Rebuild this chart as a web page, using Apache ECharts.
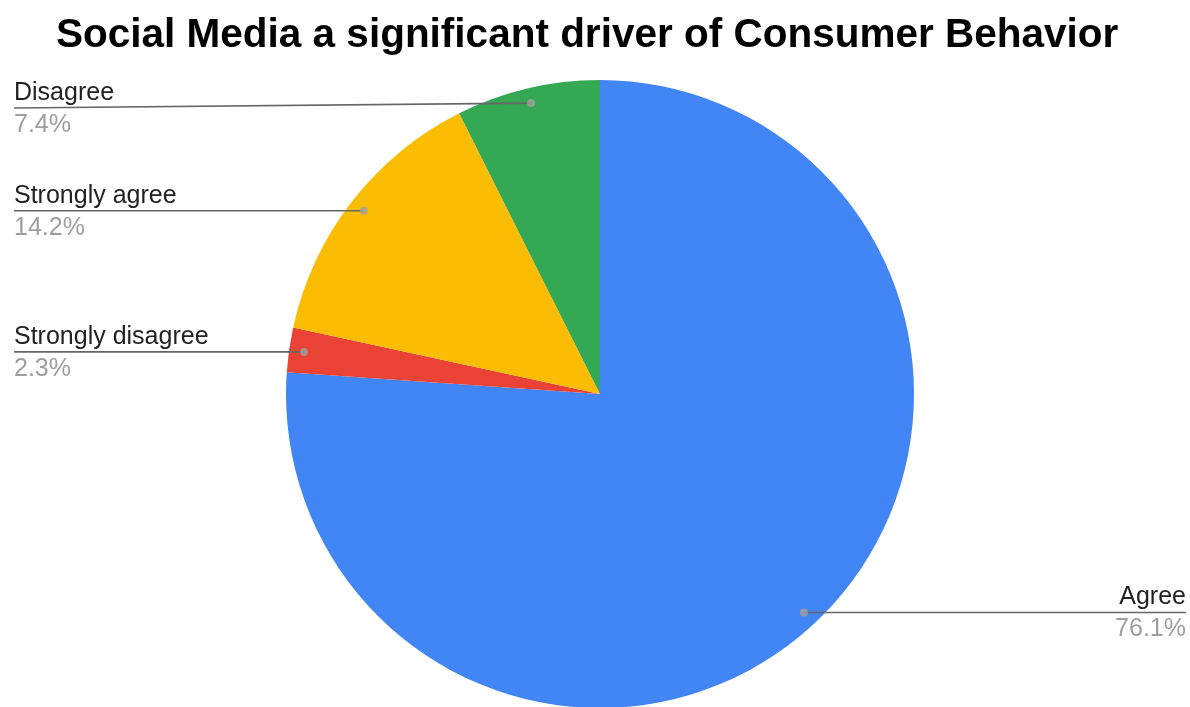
<!DOCTYPE html>
<html>
<head>
<meta charset="utf-8">
<title>Social Media a significant driver of Consumer Behavior</title>
<script src="https://cdn.jsdelivr.net/npm/echarts@6/dist/echarts.min.js"></script>
<style>
  html, body { margin: 0; padding: 0; background: #ffffff; }
  #chart { width: 1190px; height: 707px; }
</style>
</head>
<body>
<div id="chart"></div>
<script>
// Survey answers, in slice order (clockwise from 12 o'clock)
const categories = ['Agree', 'Strongly disagree', 'Strongly agree', 'Disagree'];
const shares = [76.1, 2.3, 14.2, 7.4];
const sliceColors = ['#4285F4', '#EA4335', '#FBBC04', '#34A853'];

const CENTER = [600, 394];
const RADIUS = 314;
const DOT_RATIO = 0.952;   // where the leader line starts, as a share of the radius
const EDGE_LEFT = 14;      // label inset from the left side
const EDGE_RIGHT = 4;      // label inset from the right side
const LABEL_TOP = 108;     // keep labels clear of the title

// mid-angle of each slice, in percent of the full turn
const total = shares.reduce((a, b) => a + b, 0);
let acc = 0;
const midPoints = shares.map(v => {
  const mid = (acc + v / 2) / total * 100;
  acc += v;
  return [DOT_RATIO, mid];
});

const pieData = categories.map((name, i) => ({
  name,
  value: shares[i],
  itemStyle: { color: sliceColors[i] }
}));

const labelFont = 'Liberation Sans, Arial, sans-serif';

const chart = echarts.init(document.getElementById('chart'), null, { renderer: 'canvas' });

chart.setOption({
  backgroundColor: '#ffffff',
  animation: false,
  title: {
    text: 'Social Media a significant driver of Consumer Behavior',
    left: 51,
    top: 10,
    textStyle: {
      fontFamily: labelFont,
      fontWeight: 'bold',
      fontSize: 40.5,
      color: '#000000'
    }
  },
  polar: { center: CENTER, radius: RADIUS },
  angleAxis: { type: 'value', min: 0, max: 100, startAngle: 90, clockwise: true, show: false },
  radiusAxis: { type: 'value', min: 0, max: 1, show: false },
  series: [
    {
      // the slices
      type: 'pie',
      center: CENTER,
      radius: RADIUS,
      startAngle: 90,
      clockwise: true,
      silent: true,
      z: 2,
      data: pieData,
      itemStyle: { borderWidth: 0 },
      label: { show: false },
      labelLine: { show: false }
    },
    {
      // same layout, invisible sectors: carries the labels and leader lines above the slices
      type: 'pie',
      center: CENTER,
      radius: RADIUS,
      startAngle: 90,
      clockwise: true,
      silent: true,
      z: 3,
      data: pieData.map(d => ({ name: d.name, value: d.value })),
      itemStyle: { color: 'rgba(0,0,0,0)', borderWidth: 0 },
      label: {
        show: true,
        position: 'outer',
        alignTo: 'edge',
        edgeDistance: EDGE_LEFT,
        formatter: p => '{n|' + p.name + '}\n{p|' + p.value.toFixed(1) + '%}',
        rich: {
          n: { fontFamily: labelFont, fontSize: 25, color: '#222222', lineHeight: 32 },
          p: { fontFamily: labelFont, fontSize: 25, color: '#9E9E9E', lineHeight: 32 }
        }
      },
      labelLine: {
        show: true,
        length: 0,
        length2: 10,
        lineStyle: { color: '#666666', width: 1.6 }
      },
      labelLayout: function (params) {
        const pts = params.labelLinePoints;
        if (!pts) return {};
        const start = pts[0];
        const dot = [
          CENTER[0] + (start[0] - CENTER[0]) * DOT_RATIO,
          CENTER[1] + (start[1] - CENTER[1]) * DOT_RATIO
        ];
        const rightSide = dot[0] > CENTER[0];
        const edgeX = rightSide ? chart.getWidth() - EDGE_RIGHT : EDGE_LEFT;
        const labelY = Math.max(dot[1], LABEL_TOP);
        return {
          x: edgeX,
          y: labelY + 1,
          align: rightSide ? 'right' : 'left',
          verticalAlign: 'middle',
          labelLinePoints: [dot, [edgeX, labelY], [edgeX, labelY]]
        };
      }
    },
    {
      // leader-line dots on each slice
      type: 'scatter',
      coordinateSystem: 'polar',
      silent: true,
      symbol: 'circle',
      symbolSize: 8,
      itemStyle: { color: '#A0A0A0' },
      data: midPoints,
      z: 5
    }
  ]
});
</script>
</body>
</html>
